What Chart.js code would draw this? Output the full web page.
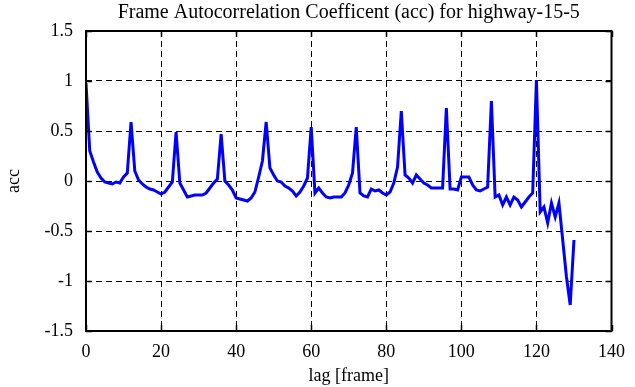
<!DOCTYPE html>
<html>
<head>
<meta charset="utf-8">
<script src="https://cdn.jsdelivr.net/npm/chart.js@4/dist/chart.umd.min.js"></script>
<style>
  html, body { margin: 0; padding: 0; background: #ffffff; }
  #wrap { width: 635px; height: 387px; position: relative; }
</style>
</head>
<body>
<div id="wrap"><canvas id="c"></canvas></div>
<script>
const titleText = "Frame Autocorrelation Coefficent (acc) for highway-15-5";
const xAxisTitle = "lag [frame]";
const yAxisTitle = "acc";

const xTicks = [0, 20, 40, 60, 80, 100, 120, 140];
const yTicks = [-1.5, -1, -0.5, 0, 0.5, 1, 1.5];

const lags = [
  0, 1, 2, 3, 4, 5, 6, 7, 8, 9,
  10, 11, 12, 13, 14, 15, 16, 17, 18, 19,
  20, 21, 22, 23, 24, 25, 26, 27, 28, 29,
  30, 31, 32, 33, 34, 35, 36, 37, 38, 39,
  40, 41, 42, 43, 44, 45, 46, 47, 48, 49,
  50, 51, 52, 53, 54, 55, 56, 57, 58, 59,
  60, 61, 62, 63, 64, 65, 66, 67, 68, 69,
  70, 71, 72, 73, 74, 75, 76, 77, 78, 79,
  80, 81, 82, 83, 84, 85, 86, 87, 88, 89,
  90, 91, 92, 93, 94, 95, 96, 97, 98, 99,
  100, 101, 102, 103, 104, 105, 106, 107, 108, 109,
  110, 111, 112, 113, 114, 115, 116, 117, 118, 119,
  120, 121, 122, 123, 124, 125, 126, 127, 128, 129,
  130
];

const acc = [
  0.98, 0.30, 0.19, 0.09, 0.03, -0.01, -0.02, -0.03, -0.01, -0.02,
  0.04, 0.08, 0.59, 0.10, 0.01, -0.03, -0.06, -0.08, -0.09, -0.11,
  -0.13, -0.11, -0.06, -0.01, 0.49, -0.02, -0.09, -0.16, -0.15, -0.14,
  -0.14, -0.14, -0.12, -0.07, -0.02, 0.02, 0.47, 0.00, -0.04, -0.09,
  -0.17, -0.18, -0.19, -0.20, -0.17, -0.11, 0.04, 0.20, 0.59, 0.13,
  0.06, 0.00, -0.01, -0.05, -0.07, -0.10, -0.15, -0.11, -0.05, 0.03,
  0.54, -0.12, -0.07, -0.12, -0.16, -0.17, -0.16, -0.16, -0.16, -0.12,
  -0.04, 0.08, 0.54, -0.12, -0.15, -0.16, -0.08, -0.10, -0.09, -0.12,
  -0.14, -0.11, -0.02, 0.14, 0.70, 0.06, 0.03, -0.02, 0.06, 0.02,
  -0.02, -0.04, -0.07, -0.07, -0.07, -0.07, 0.73, -0.08, -0.08, -0.09,
  0.04, 0.04, 0.04, -0.04, -0.09, -0.10, -0.08, -0.06, 0.80, -0.16,
  -0.14, -0.24, -0.16, -0.24, -0.16, -0.19, -0.26, -0.21, -0.16, -0.12,
  1.01, -0.31, -0.26, -0.42, -0.22, -0.36, -0.22, -0.59, -0.96, -1.24,
  -0.59
];

const FONT = "'Liberation Serif', 'Times New Roman', serif";

const boxPlugin = {
  id: 'boxTicks',
  afterDatasetsDraw(chart) {
    const { ctx, chartArea: a, scales } = chart;
    ctx.save();
    ctx.strokeStyle = '#000';
    ctx.lineWidth = 1.5;
    ctx.setLineDash([]);
    const tl = 6;
    ctx.beginPath();
    xTicks.forEach(v => {
      const x = Math.round(scales.x.getPixelForValue(v)) + 0.5;
      ctx.moveTo(x, a.bottom); ctx.lineTo(x, a.bottom - tl);
      ctx.moveTo(x, a.top); ctx.lineTo(x, a.top + tl);
    });
    yTicks.forEach(v => {
      const y = Math.round(scales.y.getPixelForValue(v)) + 0.5;
      ctx.moveTo(a.left, y); ctx.lineTo(a.left + tl, y);
      ctx.moveTo(a.right, y); ctx.lineTo(a.right - tl, y);
    });
    ctx.stroke();
    ctx.lineWidth = 2;
    ctx.strokeRect(a.left, a.top, a.right - a.left, a.bottom - a.top);
    ctx.restore();
  }
};

new Chart(document.getElementById('c'), {
  type: 'line',
  data: {
    labels: lags,
    datasets: [{
      label: 'acc',
      data: lags.map((l, i) => ({ x: l, y: acc[i] })),
      borderColor: '#0000ff',
      borderWidth: 3,
      pointRadius: 0,
      tension: 0,
      fill: false
    }]
  },
  options: {
    responsive: true,
    maintainAspectRatio: false,
    animation: false,
    layout: { padding: { left: 0, right: 23, top: 0, bottom: 0 } },
    plugins: {
      legend: { display: false },
      tooltip: { enabled: false },
      title: {
        display: true,
        text: titleText,
        fullSize: false,
        color: '#000',
        font: { family: FONT, size: 20, weight: 'normal', lineHeight: 1.2 },
        padding: { top: 1, bottom: 6 }
      }
    },
    scales: {
      x: {
        type: 'linear',
        min: 0, max: 140,
        afterBuildTicks(scale) { scale.ticks = xTicks.map(v => ({ value: v })); },
        afterFit(scale) { scale.height = 56; },
        grid: { color: '#000', lineWidth: 1, drawTicks: false },
        border: { display: false, dash: [6, 4] },
        ticks: {
          color: '#000', padding: 10, maxRotation: 0,
          font: { family: FONT, size: 18 },
          callback: v => String(v)
        },
        title: {
          display: true, text: xAxisTitle, color: '#000',
          font: { family: FONT, size: 18 },
          padding: { top: 0, bottom: 0 }
        }
      },
      y: {
        type: 'linear',
        min: -1.5, max: 1.5,
        afterBuildTicks(scale) { scale.ticks = yTicks.map(v => ({ value: v })); },
        afterFit(scale) { scale.width = 86; },
        grid: { color: '#000', lineWidth: 1, drawTicks: false },
        border: { display: false, dash: [6, 4] },
        ticks: {
          color: '#000', padding: 13,
          font: { family: FONT, size: 18 },
          callback: v => String(v)
        },
        title: {
          display: true, text: yAxisTitle, color: '#000',
          font: { family: FONT, size: 18 },
          padding: { top: 3, bottom: 0 }
        }
      }
    }
  },
  plugins: [boxPlugin]
});
</script>
</body>
</html>
